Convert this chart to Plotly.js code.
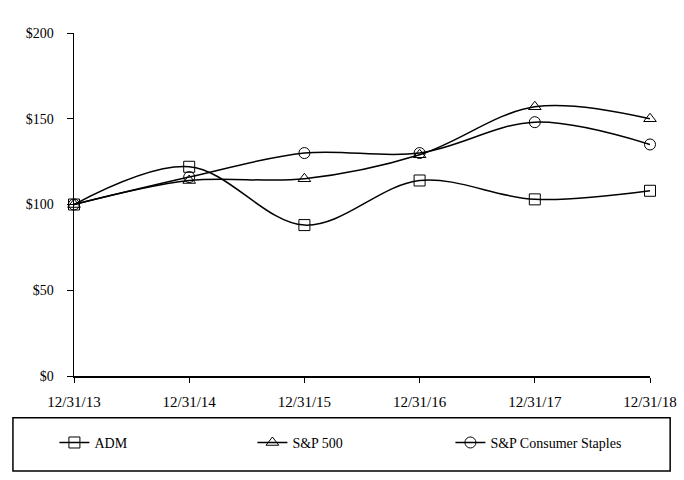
<!DOCTYPE html>
<html><head><meta charset="utf-8">
<script src="https://cdn.plot.ly/plotly-3.0.1.min.js"></script>
<style>html,body{margin:0;padding:0;background:#fff}#chart{width:684px;height:480px}</style>
</head><body><div id="chart"></div>
<script>
const dates = ["12/31/13","12/31/14","12/31/15","12/31/16","12/31/17","12/31/18"];
const adm = [100, 122, 88, 114, 103, 108];
const sp500 = [100, 114, 115, 129, 157, 150];
const staples = [100, 116, 130, 130, 148, 135];
const yTicks = [0, 50, 100, 150, 200];
const yTickText = ["$0", "$50", "$100", "$150", "$200"];

const font = {family: "Liberation Serif, Times New Roman, serif", size: 14, color: "#000"};
const xfont = {family: "Liberation Serif, Times New Roman, serif", size: 15, color: "#000"};
function tr(name, y, sym) {
  return {x: dates, y: y, name: name, type: "scatter", mode: "lines+markers",
    line: {color: "#000", width: 1.5, shape: "spline", smoothing: 1},
    marker: {symbol: sym, size: 11, color: "#000", line: {color: "#000", width: 1}},
    cliponaxis: false};
}
const data = [tr("ADM", adm, "square-open"), tr("S&P 500", sp500, "triangle-up-open"), tr("S&P Consumer Staples", staples, "circle-open")];
const layout = {
  width: 684, height: 480,
  margin: {l: 74, r: 34, t: 33, b: 104},
  paper_bgcolor: "#fff", plot_bgcolor: "#fff",
  font: font,
  showlegend: true,
  legend: {orientation: "h", x: -0.034, xanchor: "left", y: -0.195, yanchor: "middle",
    entrywidth: 153, font: font, bgcolor: "rgba(0,0,0,0)"},
  shapes: [{type: "rect", xref: "paper", yref: "paper", x0: -0.106, x1: 1.035, y0: -0.122, y1: -0.277,
    line: {color: "#000", width: 1.5}}],
  xaxis: {type: "category", range: [0, 5], showgrid: false, zeroline: false,
    showline: true, linecolor: "#000", linewidth: 1.5,
    ticks: "outside", ticklen: 5, tickcolor: "#000", ticklabelstandoff: 6, tickfont: xfont},
  yaxis: {range: [0, 200], tickvals: yTicks, ticktext: yTickText, showgrid: false, zeroline: false,
    showline: true, linecolor: "#000", linewidth: 1.5,
    ticks: "outside", ticklen: 6, tickcolor: "#000", ticklabelstandoff: 10, tickfont: font}
};
Plotly.newPlot("chart", data, layout, {displayModeBar: false, staticPlot: true});
</script></body></html>
